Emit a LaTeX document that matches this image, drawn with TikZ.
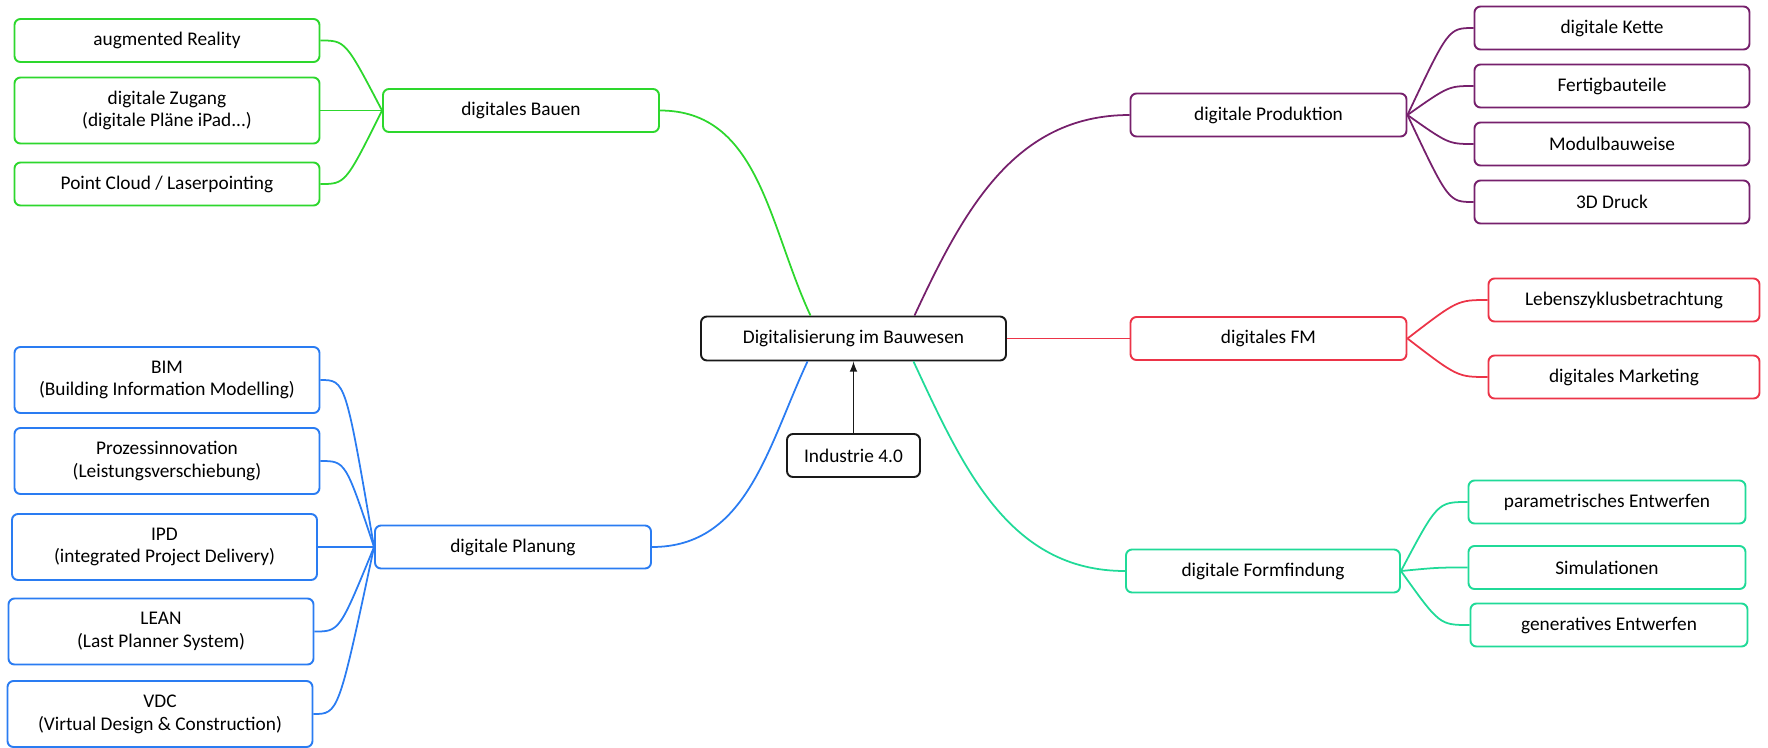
\documentclass[tikz,border=0pt]{standalone}
\usepackage{fontspec}
\setmainfont{Carlito}
\usetikzlibrary{positioning}
\definecolor{bauen}{RGB}{45,215,45}
\definecolor{prod}{RGB}{118,32,108}
\definecolor{fm}{RGB}{236,52,72}
\definecolor{form}{RGB}{32,218,152}
\definecolor{plan}{RGB}{42,124,242}
\definecolor{root}{RGB}{25,25,25}

\begin{document}
\begin{tikzpicture}[on grid, font=\fontsize{11}{13}\selectfont,
box/.style ={draw, fill=white, rounded corners=1.2mm, line width=1.1pt,
  minimum height=0.86cm, align=center, inner sep=2pt},
wide/.style ={box, minimum width=6.1cm},
twoline/.style ={minimum height=1.32cm},
link/.style ={line width=1pt}]
\useasboundingbox (-17.07,-8.17) rectangle (18.29,6.77);

\node[box, draw=root, minimum width=6.1cm, minimum height=0.88cm] (Root) {Digitalisierung im Bauwesen};
\node[box, draw=root, minimum width=2.66cm] (Ind) [below=2.34cm of Root] {Industrie 4.0};

% Hauptaeste
\node[box, draw=bauen, minimum width=5.52cm] (Bau) [above left=4.56cm and 6.65cm of Root] {digitales Bauen};
\node[box, draw=prod, minimum width=5.52cm] (Prod) [above right=4.47cm and 8.30cm of Root] {digitale Produktion};
\node[box, draw=fm, minimum width=5.52cm] (FM) [right=8.30cm of Root] {digitales FM};
\node[box, draw=form, minimum width=5.48cm] (Form) [below right=4.65cm and 8.19cm of Root] {digitale Formfindung};
\node[box, draw=plan, minimum width=5.52cm] (Plan) [below left=4.17cm and 6.81cm of Root] {digitale Planung};

% digitales Bauen
\node[wide, draw=bauen] (Bau1) [above left=1.40cm and 7.08cm of Bau] {augmented Reality};
\node[wide, twoline, draw=bauen] (Bau2) [left=7.08cm of Bau] {digitale Zugang\\(digitale Pläne iPad...)};
\node[wide, draw=bauen] (Bau3) [below left=1.47cm and 7.08cm of Bau] {Point Cloud / Laserpointing};

% digitale Produktion
\node[box, draw=prod, minimum width=5.5cm] (Prod1) [above right=1.74cm and 6.87cm of Prod] {digitale Kette};
\node[box, draw=prod, minimum width=5.5cm] (Prod2) [above right=0.58cm and 6.87cm of Prod] {Fertigbauteile};
\node[box, draw=prod, minimum width=5.5cm] (Prod3) [below right=0.58cm and 6.87cm of Prod] {Modulbauweise};
\node[box, draw=prod, minimum width=5.5cm] (Prod4) [below right=1.74cm and 6.87cm of Prod] {3D Druck};

% digitales FM
\node[box, draw=fm, minimum width=5.42cm] (FM1) [above right=0.77cm and 7.11cm of FM] {Lebenszyklusbetrachtung};
\node[box, draw=fm, minimum width=5.42cm] (FM2) [below right=0.77cm and 7.11cm of FM] {digitales Marketing};

% digitale Formfindung
\node[box, draw=form, minimum width=5.54cm] (Form1) [above right=1.38cm and 6.88cm of Form] {parametrisches Entwerfen};
\node[box, draw=form, minimum width=5.54cm] (Form2) [above right=0.07cm and 6.88cm of Form] {Simulationen};
\node[box, draw=form, minimum width=5.54cm] (Form3) [below right=1.08cm and 6.92cm of Form] {generatives Entwerfen};

% digitale Planung
\node[wide, twoline, draw=plan] (Plan1) [above left=3.34cm and 6.92cm of Plan] {BIM\\(Building Information Modelling)};
\node[wide, twoline, draw=plan] (Plan2) [above left=1.72cm and 6.92cm of Plan] {Prozessinnovation\\(Leistungsverschiebung)};
\node[wide, twoline, draw=plan] (Plan3) [left=6.97cm of Plan] {IPD\\(integrated Project Delivery)};
\node[wide, twoline, draw=plan] (Plan4) [below left=1.69cm and 7.04cm of Plan] {LEAN\\(Last Planner System)};
\node[wide, twoline, draw=plan] (Plan5) [below left=3.34cm and 7.06cm of Plan] {VDC\\(Virtual Design \& Construction)};

% Verbindungen zur Mitte
\path ([xshift=-0.86cm]Root.north) edge[link, bauen, out=115, in=0] (Bau.east);
\path ([xshift=1.22cm]Root.north) edge[link, prod, out=65, in=180] (Prod.west);
\path (Root.east) edge[link, fm] (FM.west);
\path ([xshift=1.2cm]Root.south) edge[link, form, out=-65, in=180] (Form.west);
\path ([xshift=-0.92cm]Root.south) edge[link, plan, out=-115, in=0] (Plan.east);
\path (Ind) edge[link, root, -latex] (Root);

% Aeste
\foreach \n in {1,2,3}
  \draw[link, bauen] (Bau.west) .. controls ([xshift=0.5cm]Bau\n.east) .. (Bau\n.east);
\foreach \n in {1,2,3,4}
  \draw[link, prod] (Prod.east) .. controls ([xshift=-0.5cm]Prod\n.west) .. (Prod\n.west);
\foreach \n in {1,2}
  \draw[link, fm] (FM.east) .. controls ([xshift=-0.6cm]FM\n.west) .. (FM\n.west);
\foreach \n in {1,2,3}
  \draw[link, form] (Form.east) .. controls ([xshift=-0.6cm]Form\n.west) .. (Form\n.west);
\foreach \n in {1,2,3,4,5}
  \draw[link, plan] (Plan.west) .. controls ([xshift=0.5cm]Plan\n.east) .. (Plan\n.east);
\end{tikzpicture}
\end{document}
